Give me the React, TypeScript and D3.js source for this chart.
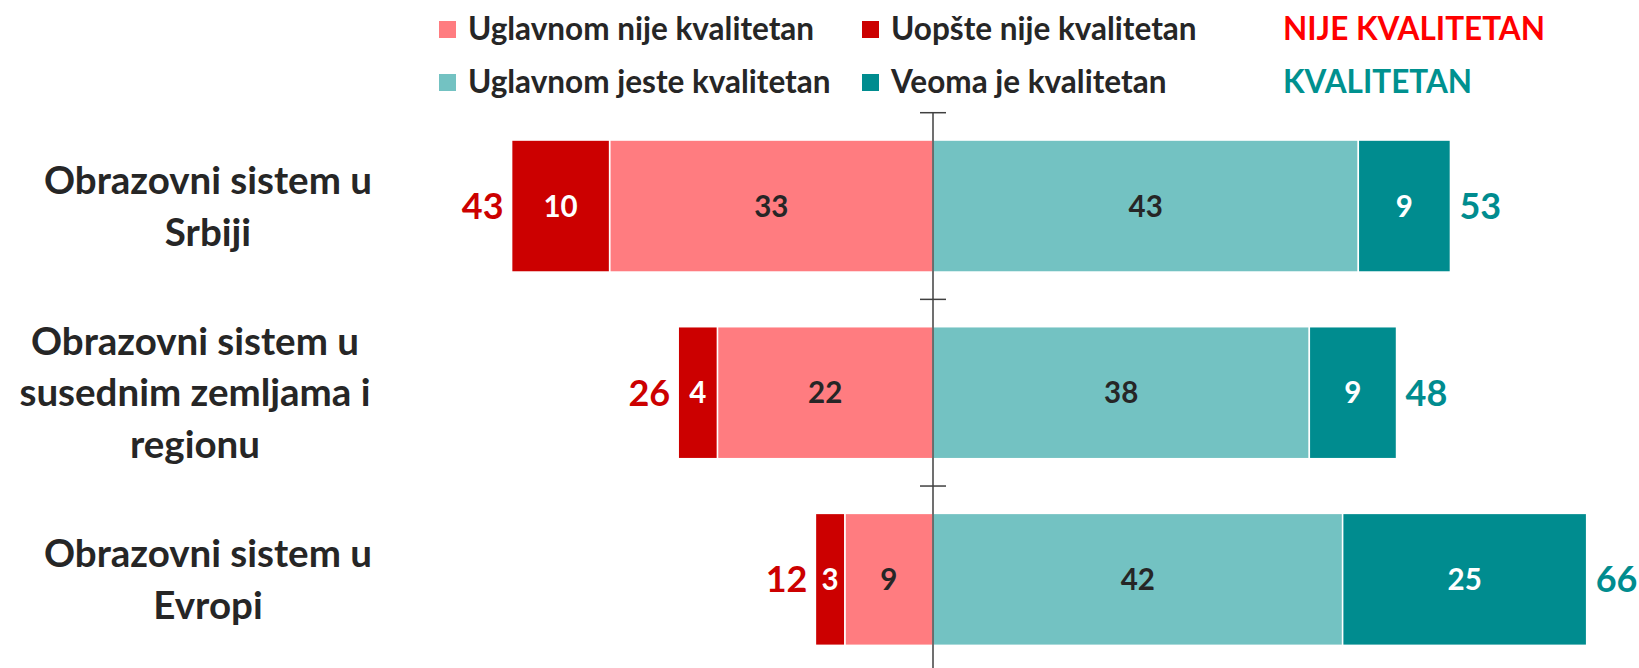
import React from "react";
import * as d3 from "d3";

const categories = ["Srbija", "Region", "Evropa"];
const categoryLines = [
  ["Obrazovni sistem u", "Srbiji"],
  ["Obrazovni sistem u", "susednim zemljama i", "regionu"],
  ["Obrazovni sistem u", "Evropi"],
];
const uopsteNije = [10, 4, 3];
const uglavnomNije = [33, 22, 9];
const uglavnomJeste = [43.4, 38.4, 41.8];
const veomaJe = [9.4, 8.9, 24.9];
const nijeTotals = [43, 26, 12];
const jesteTotals = [53, 48, 66];

const seriesKeys = ["uglavnomNije", "uopsteNije", "uglavnomJeste", "veomaJe"];
const seriesNames: Record<string, string> = {
  uglavnomNije: "Uglavnom nije kvalitetan",
  uopsteNije: "Uopšte nije kvalitetan",
  uglavnomJeste: "Uglavnom jeste kvalitetan",
  veomaJe: "Veoma je kvalitetan",
};
const seriesColors: Record<string, string> = {
  uglavnomNije: "#FF7C80",
  uopsteNije: "#CC0000",
  uglavnomJeste: "#73C2C2",
  veomaJe: "#008C8F",
};
const labelColors: Record<string, string> = {
  uglavnomNije: "#262626",
  uopsteNije: "#FFFFFF",
  uglavnomJeste: "#262626",
  veomaJe: "#FFFFFF",
};

const FONT = "Lato, 'Open Sans', sans-serif";
const labelCenters = [208, 195, 208];

export default function App() {
  const W = 1639;
  const H = 668;

  const rows = categories.map((c, i) => ({
    cat: c,
    uglavnomNije: -uglavnomNije[i],
    uopsteNije: -uopsteNije[i],
    uglavnomJeste: uglavnomJeste[i],
    veomaJe: veomaJe[i],
  }));

  const stacked = d3
    .stack<any>()
    .keys(seriesKeys)
    .offset(d3.stackOffsetDiverging)(rows);

  const x = d3.scaleLinear().domain([-50, 70]).range([933 - 490, 933 + 686]);
  const y = d3
    .scaleBand<string>()
    .domain(categories)
    .range([112.7, 672.7])
    .paddingInner(0.293)
    .paddingOuter(0.1465);

  const step = y.step();
  const bw = y.bandwidth();
  const r0 = y.range()[0];
  const boundaries = d3.range(categories.length + 1).map((i) => r0 + i * step);

  const segFs = 29.5;
  const totFs = 36;
  const catFs = 38.5;
  const legFs = 31.5;
  const cap = 0.7165;

  const legendItems = [
    { key: "uglavnomNije", x: 439, y: 21 },
    { key: "uopsteNije", x: 862, y: 21 },
    { key: "uglavnomJeste", x: 439, y: 74 },
    { key: "veomaJe", x: 862, y: 74 },
  ];

  return (
    <div style={{ position: "absolute", left: 0, top: 0 }}>
      <svg width={W} height={H} style={{ display: "block", background: "#fff" }}>
        {/* legend */}
        {legendItems.map((it) => (
          <g key={it.key}>
            <rect x={it.x} y={it.y} width={17} height={17} fill={seriesColors[it.key]} />
            <text
              x={it.x + 29}
              y={it.y + 8.5 + (legFs * cap) / 2 - 1}
              fontFamily={FONT}
              fontWeight={700}
              fontSize={legFs}
              fill="#262626"
            >
              {seriesNames[it.key]}
            </text>
          </g>
        ))}
        <text x={1283} y={29.5 + (legFs * cap) / 2 - 1} fontFamily={FONT} fontWeight={700} fontSize={legFs} fill="#FF0000">
          NIJE KVALITETAN
        </text>
        <text x={1283} y={82.5 + (legFs * cap) / 2 - 1} fontFamily={FONT} fontWeight={700} fontSize={legFs} fill="#00918F">
          KVALITETAN
        </text>

        {/* bars */}
        {stacked.map((s) => (
          <g key={s.key}>
            {s.map((d, i) => {
              const x0 = x(Math.min(d[0], d[1]));
              const x1 = x(Math.max(d[0], d[1]));
              const yy = y(categories[i])!;
              const val = Math.round(Math.abs(d[1] - d[0]));
              return (
                <g key={i}>
                  <rect
                    x={x0}
                    y={yy}
                    width={x1 - x0}
                    height={bw}
                    fill={seriesColors[s.key]}
                    stroke="#FFFFFF"
                    strokeWidth={1.5}
                  />
                  <text
                    x={(x0 + x1) / 2}
                    y={yy + bw / 2 + (segFs * cap) / 2}
                    textAnchor="middle"
                    fontFamily={FONT}
                    fontWeight={700}
                    fontSize={segFs}
                    fill={labelColors[s.key]}
                  >
                    {val}
                  </text>
                </g>
              );
            })}
          </g>
        ))}

        {/* totals */}
        {categories.map((c, i) => {
          const cy = y(c)! + bw / 2 + (totFs * cap) / 2;
          const left = x(-(uglavnomNije[i] + uopsteNije[i]));
          const right = x(uglavnomJeste[i] + veomaJe[i]);
          return (
            <g key={c}>
              <text x={left - 8} y={cy} textAnchor="end" fontFamily={FONT} fontWeight={700} fontSize={totFs} fill="#CC0000">
                {nijeTotals[i]}
              </text>
              <text x={right + 9} y={cy} textAnchor="start" fontFamily={FONT} fontWeight={700} fontSize={totFs} fill="#008C8F">
                {jesteTotals[i]}
              </text>
            </g>
          );
        })}

        {/* axis */}
        <line x1={x(0)} x2={x(0)} y1={boundaries[0]} y2={boundaries[boundaries.length - 1]} stroke="#404040" strokeWidth={1.5} />
        {boundaries.map((b, i) => (
          <line key={i} x1={x(0) - 13} x2={x(0) + 13} y1={b} y2={b} stroke="#404040" strokeWidth={1.5} />
        ))}

        {/* category labels */}
        {categories.map((c, i) => {
          const lines = categoryLines[i];
          const center = y(c)! + bw / 2;
          const lh = 51.5;
          return (
            <text key={c} textAnchor="middle" fontFamily={FONT} fontWeight={700} fontSize={catFs} fill="#262626">
              {lines.map((ln, j) => (
                <tspan key={j} x={labelCenters[i]} y={center + (j - (lines.length - 1) / 2) * lh + (catFs * cap) / 2}>
                  {ln}
                </tspan>
              ))}
            </text>
          );
        })}
      </svg>
    </div>
  );
}
